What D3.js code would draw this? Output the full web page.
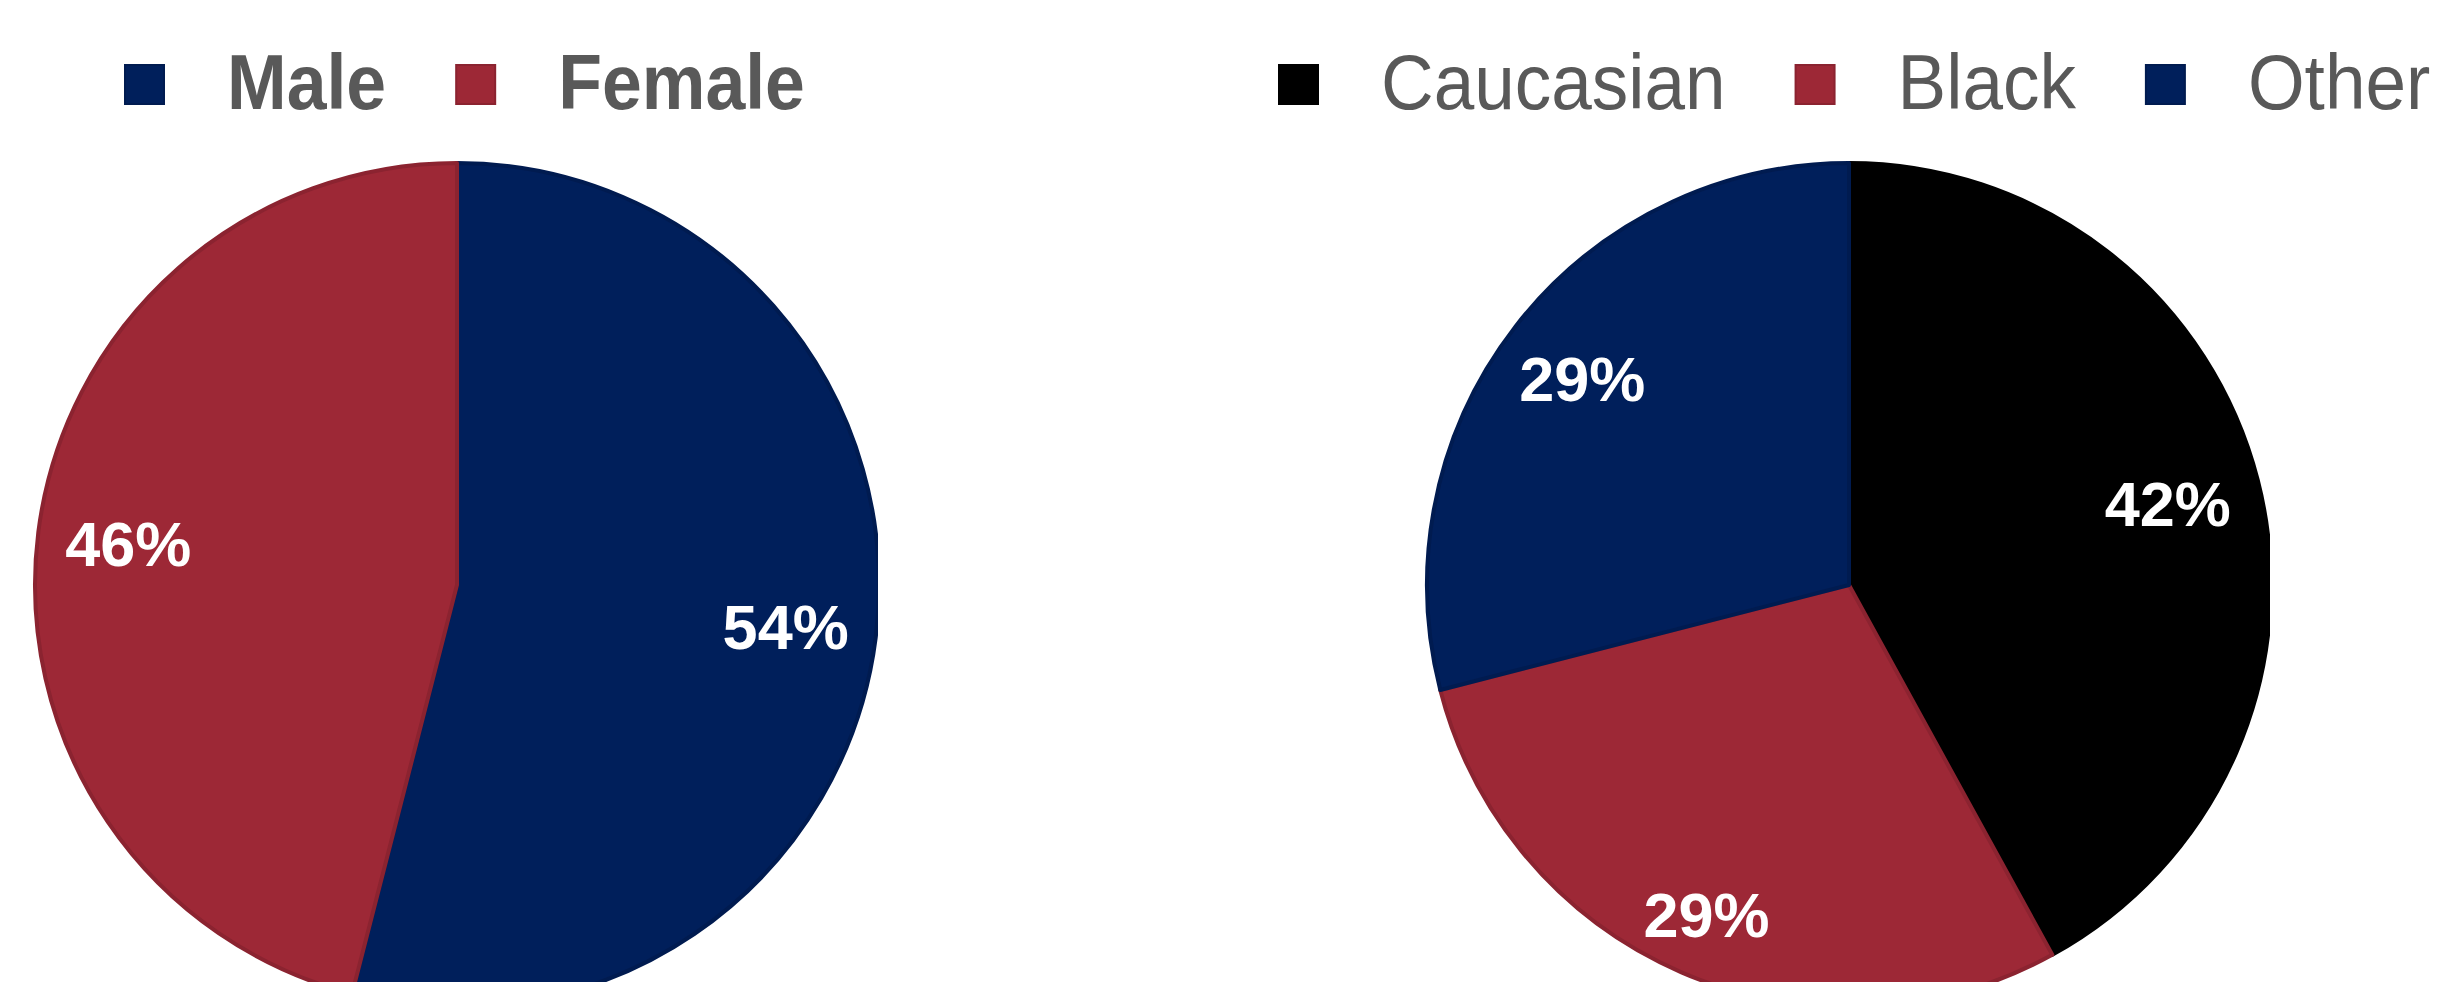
<!DOCTYPE html>
<html>
<head>
<meta charset="utf-8">
<script src="https://cdn.jsdelivr.net/npm/d3@7/dist/d3.min.js"></script>
<style>
  html, body { margin: 0; padding: 0; background: #ffffff; overflow: hidden; }
  svg { display: block; }
</style>
</head>
<body>
<svg id="chart" width="2442" height="982"></svg>
<script>
// Gender split
const genderCategories = ["Male", "Female"];
const genderValues = [54, 46];
const genderColors = ["#001F5B", "#9D2836"];

// Race split
const raceCategories = ["Caucasian", "Black", "Other"];
const raceValues = [42, 29, 29];
const raceColors = ["#000000", "#9D2836", "#001F5B"];

const svg = d3.select("#chart");
const W = 2442, H = 982;
const R = 422;

const pie = d3.pie().sort(null).value(d => d.value).startAngle(0).endAngle(2 * Math.PI);
const arc = d3.arc().innerRadius(0).outerRadius(R);

function drawPie(id, cx, cy, cats, vals, colors, labelK) {
  const data = cats.map((c, i) => ({ name: c, value: vals[i], color: colors[i] }));
  const total = d3.sum(vals);

  // plot area ends just short of the pie's right rim
  svg.append("clipPath").attr("id", "clip-" + id)
    .append("rect").attr("x", cx - R - 10).attr("y", 0)
    .attr("width", 2 * R + 9).attr("height", H);

  const g = svg.append("g")
    .attr("clip-path", `url(#clip-${id})`)
    .append("g")
    .attr("transform", `translate(${cx},${cy})`);

  const arcs = pie(data);

  g.selectAll("path.slice")
    .data(arcs)
    .join("path")
    .attr("class", "slice")
    .attr("d", arc)
    .attr("fill", d => d.data.color)
    .attr("stroke", d => d.data.color === "#000000" ? "#000000" : d3.color(d.data.color).darker(0.35))
    .attr("stroke-width", 4)
    .attr("stroke-linejoin", "round");

  const fs = 63;
  g.selectAll("text.pct")
    .data(arcs)
    .join("text")
    .attr("class", "pct")
    .attr("transform", (d, i) => {
      const k = labelK[i];
      const a = d3.arc().innerRadius(R * k).outerRadius(R * k);
      const [x, y] = a.centroid(d);
      return `translate(${x},${y + fs * 0.36})`;
    })
    .attr("text-anchor", "middle")
    .attr("font-family", "'Liberation Sans', Arial, sans-serif")
    .attr("font-weight", "bold")
    .attr("font-size", fs)
    .attr("fill", "#ffffff")
    .text(d => Math.round(d.data.value / total * 100) + "%");
}

function drawLegend(x0, cats, colors, weight, fs, sx) {
  const g = svg.append("g");
  let x = x0;
  const sq = 39, sqTop = 65, baseline = 109, gapText = 63, gapItem = 70;
  cats.forEach((c, i) => {
    g.append("rect")
      .attr("x", x).attr("y", sqTop)
      .attr("width", sq).attr("height", sq)
      .attr("fill", colors[i])
      .attr("stroke", colors[i] === "#000000" ? "#000000" : d3.color(colors[i]).darker(0.35))
      .attr("stroke-width", 2);
    const tx = x + sq + gapText;
    const t = g.append("text")
      .attr("transform", `translate(${tx},${baseline}) scale(${sx},1)`)
      .attr("font-family", "'Liberation Sans', Arial, sans-serif")
      .attr("font-weight", weight)
      .attr("font-size", fs)
      .attr("fill", "#595959")
      .text(c);
    const w = t.node().getComputedTextLength() * sx;
    x = tx + w + gapItem;
  });
}

drawPie("gender", 457, 585, genderCategories, genderValues, genderColors, [0.785, 0.785]);
drawPie("race", 1849, 585, raceCategories, raceValues, raceColors, [0.78, 0.85, 0.8]);

drawLegend(125, genderCategories, genderColors, "bold", 77, 0.93);
drawLegend(1279, raceCategories, raceColors, "normal", 78, 0.935);
</script>
</body>
</html>
